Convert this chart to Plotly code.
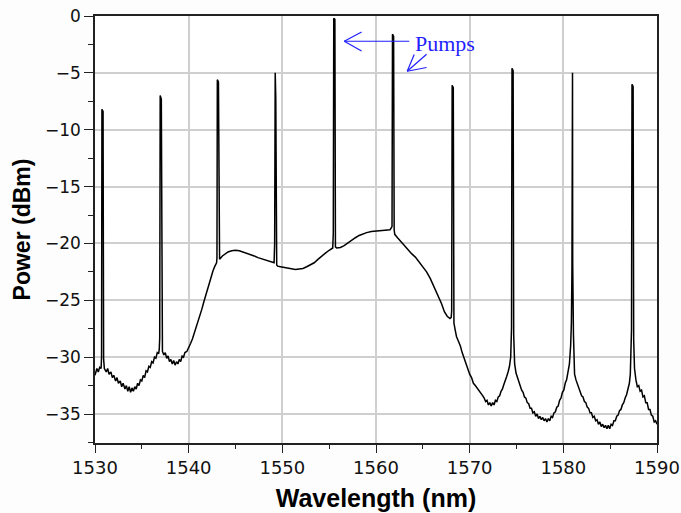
import plotly.graph_objects as go

# Measured optical spectrum: wavelength (nm) and power (dBm), left to right.
# The narrow spikes are the pump lines and the generated side-band tones.
wl_blue_wing = [
    1530.0, 1530.2, 1530.35, 1530.5, 1530.65,
    1530.7, 1530.74, 1530.86, 1530.92,
    1531.0, 1531.2, 1531.35, 1531.5, 1531.7, 1531.85, 1532.0, 1532.2, 1532.35,
    1532.5, 1532.7, 1532.85, 1533.0, 1533.2, 1533.35, 1533.5, 1533.65, 1533.8,
    1533.95, 1534.1, 1534.25, 1534.4, 1534.55, 1534.7, 1534.85, 1535.0, 1535.15,
    1535.3, 1535.45, 1535.6, 1535.75, 1535.9, 1536.05, 1536.2, 1536.35, 1536.5,
    1536.65, 1536.8, 1536.86,
    1536.91, 1536.96, 1537.08, 1537.14,
    1537.2, 1537.35, 1537.5, 1537.65, 1537.8, 1537.95, 1538.1, 1538.25, 1538.4,
    1538.55, 1538.7, 1538.85, 1539.0, 1539.15, 1539.3, 1539.45, 1539.6, 1539.8,
]
pw_blue_wing = [
    -31.6, -31.0, -31.3, -30.9, -31.0,
    -30.0, -8.2, -8.4, -30.2,
    -31.0, -31.3, -31.0, -31.5, -31.3, -31.8, -31.6, -32.1, -31.8,
    -32.3, -32.1, -32.6, -32.3, -32.8, -32.5, -33.0, -32.6, -33.1,
    -32.7, -33.0, -32.6, -32.8, -32.3, -32.5, -32.0, -32.1, -31.6,
    -31.8, -31.2, -31.3, -30.8, -30.9, -30.4, -30.5, -30.0, -30.1,
    -29.6, -29.7, -29.3,
    -28.3, -7.0, -7.3, -28.5,
    -29.5, -29.8, -29.6, -30.1, -29.9, -30.4, -30.2, -30.6, -30.3,
    -30.7, -30.4, -30.6, -30.2, -30.4, -29.9, -30.0, -29.6, -29.5,
]

wl_band = [
    1540.0, 1540.2, 1540.4, 1540.6, 1540.8, 1541.0, 1541.2, 1541.4, 1541.6,
    1541.8, 1542.0, 1542.2, 1542.4, 1542.6, 1542.8, 1542.98,
    1543.02, 1543.06, 1543.18, 1543.22,
    1543.3, 1543.6, 1543.9, 1544.2, 1544.6, 1545.0, 1545.4, 1545.8, 1546.2,
    1546.6, 1547.0, 1547.4, 1547.8, 1548.2, 1548.6, 1549.0, 1549.12,
    1549.18, 1549.24, 1549.3, 1549.4,
    1549.5, 1549.8, 1550.2, 1550.6, 1551.0, 1551.4, 1551.8, 1552.2, 1552.6,
    1553.0, 1553.4, 1553.8, 1554.2, 1554.6, 1555.0, 1555.38,
    1555.44, 1555.49, 1555.61, 1555.67,
    1555.8, 1556.2, 1556.6, 1557.0, 1557.4, 1557.8, 1558.2, 1558.6, 1559.0,
    1559.5, 1560.0, 1560.5, 1561.0, 1561.5, 1561.66,
    1561.71, 1561.76, 1561.88, 1561.94,
    1562.0, 1562.3, 1562.6, 1563.0, 1563.4, 1563.8, 1564.2, 1564.6, 1565.0,
    1565.4, 1565.8, 1566.2, 1566.6, 1567.0, 1567.3, 1567.6, 1567.9, 1568.03,
    1568.08, 1568.13, 1568.25, 1568.32,
]
pw_band = [
    -29.2, -28.8, -28.4, -27.9, -27.5, -27.0, -26.4, -25.8, -25.2,
    -24.6, -24.0, -23.4, -22.9, -22.4, -22.0, -21.7,
    -21.3, -5.6, -5.8, -21.4,
    -21.4, -21.1, -20.9, -20.75, -20.65, -20.6, -20.65, -20.75, -20.9,
    -21.0, -21.1, -21.25, -21.35, -21.45, -21.55, -21.65, -21.7,
    -20.0, -5.0, -7.2, -21.9,
    -22.0, -22.05, -22.1, -22.2, -22.25, -22.3, -22.25, -22.2, -22.05,
    -21.9, -21.7, -21.4, -21.1, -20.85, -20.6, -20.4,
    -19.1, -0.2, -0.3, -20.3,
    -20.4, -20.35, -20.2, -19.95, -19.7, -19.5, -19.3, -19.15, -19.05,
    -18.95, -18.9, -18.85, -18.85, -18.8, -18.6,
    -18.5, -1.6, -1.8, -18.8,
    -19.2, -19.5, -19.8, -20.1, -20.5, -20.9, -21.2, -21.6, -22.0,
    -22.5, -23.1, -23.8, -24.5, -25.3, -26.0, -26.4, -26.6, -26.5,
    -25.9, -6.1, -6.3, -27.0,
]

wl_red_wing = [
    1568.45, 1568.6, 1568.8, 1569.0, 1569.2, 1569.4, 1569.6, 1569.8, 1570.0,
    1570.2, 1570.4, 1570.6, 1570.8, 1571.0, 1571.2, 1571.4, 1571.55, 1571.7,
    1571.85, 1572.0, 1572.15, 1572.3, 1572.45, 1572.6, 1572.75, 1572.9, 1573.05,
    1573.2, 1573.35, 1573.5, 1573.65, 1573.8, 1573.95, 1574.1, 1574.25, 1574.38,
    1574.47, 1574.52, 1574.64, 1574.7,
    1574.8, 1574.95, 1575.1, 1575.25, 1575.4, 1575.55, 1575.7, 1575.85, 1576.0,
    1576.15, 1576.3, 1576.45, 1576.6, 1576.75, 1576.9, 1577.05, 1577.2, 1577.35,
    1577.5, 1577.65, 1577.8, 1577.95, 1578.1, 1578.25, 1578.4, 1578.55, 1578.7,
    1578.85, 1579.0, 1579.15, 1579.3, 1579.45, 1579.6, 1579.75, 1579.9, 1580.05,
    1580.2, 1580.35, 1580.5, 1580.65, 1580.78, 1580.86,
    1580.92, 1580.98, 1581.0, 1581.08,
    1581.12, 1581.2, 1581.35, 1581.5, 1581.65, 1581.8, 1581.95, 1582.1, 1582.25,
    1582.4, 1582.55, 1582.7, 1582.85, 1583.0, 1583.15, 1583.3, 1583.45, 1583.6,
    1583.75, 1583.9, 1584.05, 1584.2, 1584.35, 1584.5, 1584.65, 1584.8, 1584.95,
    1585.1, 1585.25, 1585.4, 1585.55, 1585.7, 1585.85, 1586.0, 1586.15, 1586.3,
    1586.45, 1586.6, 1586.75, 1586.9, 1587.05, 1587.15, 1587.23,
    1587.28, 1587.33, 1587.45, 1587.51,
    1587.6, 1587.75, 1587.9, 1588.05, 1588.2, 1588.35, 1588.5, 1588.65, 1588.8,
    1588.95, 1589.1, 1589.25, 1589.4, 1589.55, 1589.7, 1589.85, 1590.0,
]
pw_red_wing = [
    -27.6, -28.2, -28.6, -29.0, -29.6, -30.1, -30.6, -31.0, -31.5,
    -31.8, -32.3, -32.5, -32.7, -33.0, -33.2, -33.4, -33.6, -33.9,
    -33.8, -34.2, -34.0, -34.3, -34.0, -34.2, -33.8, -33.9, -33.5,
    -33.4, -33.0, -32.8, -32.4, -32.1, -31.7, -31.3, -30.8, -30.0,
    -27.4, -4.6, -4.8, -28.0,
    -30.6, -31.4, -31.8, -32.3, -32.5, -32.9, -33.1, -33.5, -33.6,
    -34.0, -34.1, -34.5, -34.5, -34.9, -34.8, -35.2, -35.0, -35.4,
    -35.2, -35.5, -35.3, -35.6, -35.4, -35.7, -35.4, -35.6, -35.2,
    -35.3, -34.9, -34.8, -34.4, -34.3, -33.8, -33.6, -33.1, -32.9,
    -32.3, -32.0, -31.3, -30.6, -29.0, -27.0,
    -22.3, -5.0, -21.8, -28.0,
    -30.0, -31.5, -32.0, -32.4, -32.8, -33.0, -33.4, -33.5, -33.9,
    -34.0, -34.4, -34.5, -34.9, -34.9, -35.3, -35.2, -35.6, -35.5,
    -35.9, -35.7, -36.1, -35.9, -36.2, -36.0, -36.3, -36.0, -36.3,
    -35.9, -36.0, -35.6, -35.6, -35.2, -35.1, -34.7, -34.6, -34.2,
    -34.0, -33.6, -33.3, -32.8, -32.3, -31.5, -29.8,
    -27.6, -6.0, -6.2, -28.5,
    -31.0, -32.0, -32.6, -32.5, -33.0, -32.9, -33.5, -33.4, -34.0,
    -34.0, -34.6, -34.6, -35.1, -35.2, -35.7, -35.6, -35.9,
]

wavelength_nm = wl_blue_wing + wl_band + wl_red_wing
power_dbm = pw_blue_wing + pw_band + pw_red_wing

x_range = [1530, 1590]
y_range = [-37.55, 0]
x_ticks = [1530, 1540, 1550, 1560, 1570, 1580, 1590]
y_ticks = [0, -5, -10, -15, -20, -25, -30, -35]

fig = go.Figure()
fig.add_trace(go.Scatter(
    x=wavelength_nm, y=power_dbm, mode="lines",
    line=dict(color="#000000", width=1.5),
    showlegend=False, hoverinfo="skip",
))

# "Pumps" label with two open-headed arrows pointing at the pump lines
pump_blue = "#1f1fff"
arrow_segments = [
    ((1563.55, -2.22), (1556.61, -2.22)),   # shaft to first pump
    ((1556.61, -2.22), (1558.46, -1.41)),
    ((1556.61, -2.22), (1558.46, -3.08)),
    ((1565.4, -3.37), (1563.33, -4.86)),    # shaft to second pump
    ((1563.33, -4.86), (1564.08, -3.39)),
    ((1563.33, -4.86), (1565.4, -4.53)),
]
for (x0, y0), (x1, y1) in arrow_segments:
    fig.add_shape(type="line", xref="x", yref="y", x0=x0, y0=y0, x1=x1, y1=y1,
                  line=dict(color=pump_blue, width=1.2))
fig.add_annotation(x=1563.9, y=-2.4, xref="x", yref="y", text="Pumps",
                   showarrow=False, xanchor="left", yanchor="middle",
                   font=dict(family="Liberation Serif", size=22, color=pump_blue))

axis_common = dict(
    showline=True, linecolor="#222222", linewidth=1.6, mirror=True,
    showgrid=True, gridcolor="#cfcfcf", gridwidth=1.5,
    ticks="outside", tickcolor="#222222", tickwidth=1.3,
    zeroline=False, automargin=False,
)
fig.update_xaxes(
    range=x_range, tickvals=x_ticks, ticklen=8,
    minor=dict(dtick=5, tick0=1530, ticks="outside", ticklen=4, tickcolor="#222222", showgrid=False),
    tickfont=dict(family="DejaVu Sans", size=18, color="#111111"),
    title=dict(text="<b>Wavelength (nm)</b>", standoff=12,
               font=dict(family="Liberation Sans", size=25, color="#000000")),
    **axis_common,
)
fig.update_yaxes(
    range=y_range, tickvals=y_ticks, ticklen=9,
    minor=dict(dtick=2.5, tick0=0, ticks="outside", ticklen=5, tickcolor="#222222", showgrid=False),
    tickfont=dict(family="DejaVu Sans", size=17, color="#111111"),
    title=dict(text="<b>Power (dBm)</b>", standoff=8,
               font=dict(family="Liberation Sans", size=23, color="#000000")),
    **axis_common,
)
fig.update_layout(
    width=681, height=513,
    margin=dict(l=95, r=24, t=16, b=70),
    paper_bgcolor="#fdfdfd", plot_bgcolor="#ffffff",
)
fig.write_html("out.html")
